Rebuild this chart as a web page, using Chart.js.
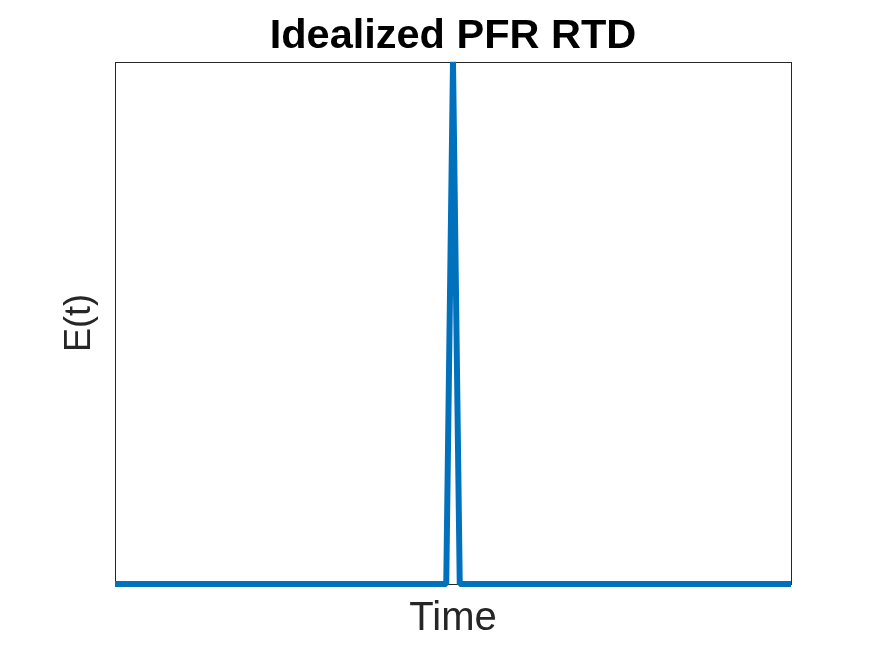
<!DOCTYPE html>
<html>
<head>
<meta charset="utf-8">
<script src="https://cdn.jsdelivr.net/npm/chart.js@4.4.1/dist/chart.umd.min.js"></script>
<style>
    html, body { margin: 0; padding: 0; background: #ffffff; }
    #wrap { width: 875px; height: 656px; }
</style>
</head>
<body>
<div id="wrap"><canvas id="rtd"></canvas></div>
<script>
// residence time distribution of an ideal plug flow reactor: a spike at the mean time
const TIME = [0, 49, 50, 51, 100];
const E_VALUES = [0, 0, 1, 0, 0];

const TITLE = "Idealized PFR RTD";
const X_LABEL = "Time";
const Y_LABEL = "E(t)";

const FONT = "'Liberation Sans', Arial, Helvetica, sans-serif";
const LINE_COLOR = "#0072BD";
const AXIS_COLOR = "#262626";

// thin box round the plot area, drawn under the line
const boxFrame = {
    id: "boxFrame",
    beforeDatasetsDraw(chart) {
        const {ctx, chartArea} = chart;
        ctx.save();
        ctx.strokeStyle = AXIS_COLOR;
        ctx.lineWidth = 1;
        ctx.strokeRect(
            Math.round(chartArea.left) + 0.5,
            Math.round(chartArea.top) + 0.5,
            Math.round(chartArea.right - chartArea.left),
            Math.round(chartArea.bottom - chartArea.top)
        );
        ctx.restore();
    }
};

document.addEventListener("DOMContentLoaded", () => {
    const canvas = document.getElementById("rtd");

    const points = TIME.map((t, i) => ({x: t, y: E_VALUES[i]}));

    new Chart(canvas, {
        type: "line",
        data: {
            datasets: [{
                data: points,
                borderColor: LINE_COLOR,
                borderWidth: 6,
                borderJoinStyle: "bevel",
                pointRadius: 0,
                tension: 0,
                fill: false,
                clip: 3,
            }]
        },
        options: {
            responsive: true,
            maintainAspectRatio: false,
            animation: false,
            devicePixelRatio: 1,
            layout: {
                padding: {left: 0, right: 84, top: 0, bottom: 0}
            },
            plugins: {
                legend: {display: false},
                tooltip: {enabled: false},
                title: {
                    display: true,
                    fullSize: false,
                    text: TITLE,
                    color: "#000000",
                    font: {family: FONT, size: 41.5, weight: "bold", lineHeight: 1.2},
                    padding: {top: 12, bottom: 0},
                },
            },
            scales: {
                x: {
                    type: "linear",
                    min: 0,
                    max: 100,
                    grid: {display: false, drawTicks: false},
                    border: {display: false},
                    ticks: {display: false},
                    title: {
                        display: true,
                        text: X_LABEL,
                        color: AXIS_COLOR,
                        font: {family: FONT, size: 40, lineHeight: 1.2},
                        padding: {top: 0, bottom: 13},
                    },
                    afterFit: (scale) => { scale.height = 72; },
                },
                y: {
                    min: 0,
                    max: 1,
                    grid: {display: false, drawTicks: false},
                    border: {display: false},
                    ticks: {display: false},
                    title: {
                        display: true,
                        text: Y_LABEL,
                        color: AXIS_COLOR,
                        font: {family: FONT, size: 36, lineHeight: 1.2},
                        padding: {top: 58, bottom: 0},
                    },
                    afterFit: (scale) => { scale.width = 115; },
                },
            },
        },
        plugins: [boxFrame],
    });
});
</script>
</body>
</html>
